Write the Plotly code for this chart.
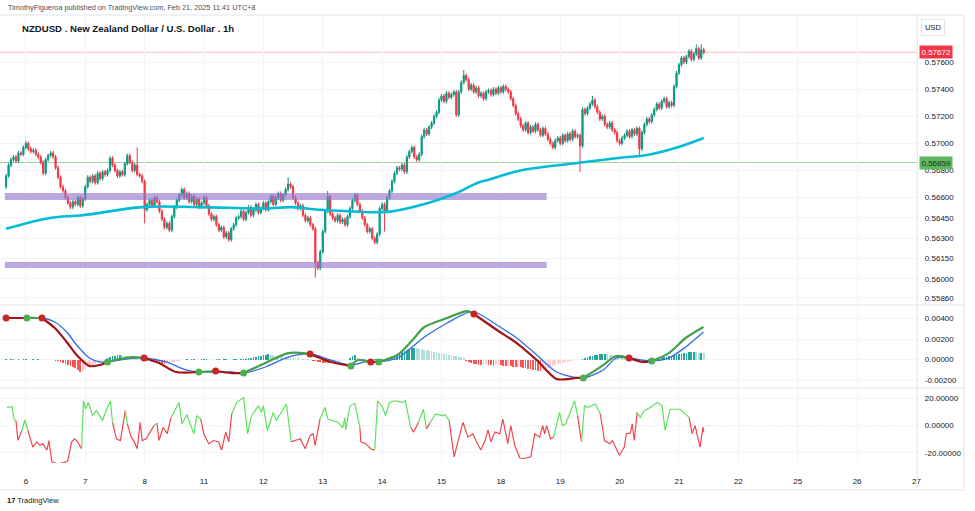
import plotly.graph_objects as go

# ---------------- data ----------------
day_labels = ['6', '7', '8', '11', '12', '13', '14', '15', '18', '19', '20', '21', '22', '25', '26', '27']
day_first_bar = 8
bars_per_day = 24

first_open_pips = 5668
close_pips = [
    5676, 5684, 5688, 5690, 5687, 5693, 5692, 5697, 5700, 5696, 5694,
    5695, 5692, 5690, 5686, 5678, 5688, 5691, 5693, 5690,
    5682, 5675, 5668, 5665, 5660, 5656,
    5653, 5657, 5655, 5660, 5654, 5659,
    5668, 5675,
    5672, 5676, 5671, 5678, 5674, 5679, 5677, 5680,
    5689, 5684, 5680, 5676, 5679, 5677,
    5685, 5691,
    5686, 5680, 5684,
    5677,
    5676, 5672,
    5651,
    5655, 5658, 5654, 5660, 5657,
    5650, 5644, 5638, 5641, 5636, 5646,
    5653, 5658, 5662, 5666, 5660, 5663,
    5657, 5661, 5655, 5659, 5653, 5656, 5660, 5654,
    5648, 5644, 5646, 5640, 5636, 5638, 5631, 5634, 5629, 5637,
    5640, 5645, 5646,
    5650, 5644, 5649, 5653, 5647, 5651, 5655, 5649, 5652, 5656, 5651,
    5657, 5661, 5655, 5660, 5663, 5658, 5662, 5666,
    5670, 5668,
    5660, 5656, 5652, 5654, 5647, 5643, 5645,
    5640, 5637,
    5612, 5608,
    5620, 5635, 5650,
    5661,
    5648, 5645, 5643, 5647, 5642, 5644, 5640, 5646,
    5652, 5658, 5662,
    5655, 5650, 5645, 5640, 5635, 5637, 5630, 5627, 5633,
    5652, 5655, 5650,
    5660, 5665,
    5672, 5678, 5682,
    5681, 5684, 5679,
    5690, 5694, 5697,
    5690, 5688, 5692,
    5705, 5710, 5707, 5712, 5715,
    5720, 5723,
    5732, 5735, 5731, 5737, 5734, 5736, 5738,
    5721,
    5738, 5745, 5750, 5747,
    5740, 5743, 5738, 5741,
    5735, 5737, 5733, 5738,
    5739, 5736, 5740, 5737, 5741, 5738, 5742, 5740, 5738,
    5733, 5728, 5722, 5718,
    5713, 5710, 5715, 5708,
    5712, 5709, 5714, 5710, 5706, 5711, 5707, 5703,
    5700, 5697, 5702,
    5704, 5700, 5706, 5702, 5707, 5703, 5709, 5705,
    5706, 5698,
    5725,
    5722, 5726, 5729, 5732,
    5727, 5723, 5718, 5720, 5714,
    5712, 5715, 5710, 5708,
    5702, 5700, 5704,
    5706, 5709, 5705, 5710, 5707, 5711,
    5696,
    5708, 5714, 5718, 5716, 5721,
    5725, 5729, 5726, 5731, 5733,
    5727, 5730, 5728,
    5742, 5752,
    5758, 5763,
    5760, 5764, 5768, 5762, 5766, 5770, 5763, 5769, 5767.2,
]
wick_pips = 1.5
high_pips_override = {8: 5702, 53: 5697, 114: 5675, 130: 5665, 185: 5754, 237: 5735, 279: 5773, 281: 5773}
low_pips_override = {56: 5641, 125: 5601, 153: 5635, 232: 5679, 256: 5690}

ma_bar = [0, 17.7, 31.0, 55.1, 78.0, 105.0, 115.5, 126.3, 138.4, 154.5, 170.6, 181.5, 190.7, 194.7, 208.0, 230.9, 251.1, 257.9, 271.2, 282]
ma_pips = [5637, 5645, 5647, 5653, 5653, 5652, 5653, 5651, 5650, 5649.5, 5656, 5663, 5671, 5673, 5680, 5685.5, 5690, 5691, 5697, 5704]

zone_low_pips = [5658.3, 5608.1]
zone_high_pips = [5663.4, 5612.5]
zone_start_bar = -0.5
zone_end_bar = 218.5
last_price = 0.57672
level_price = 0.56859

price_ticks = [0.5586, 0.5600, 0.5615, 0.5630, 0.5645, 0.5660, 0.5680, 0.5700, 0.5720, 0.5740, 0.5760]
macd_ticks = [-0.002, 0.0, 0.002, 0.004]
osc_ticks = [-20, 0, 20]

macd_bar = [0.0, 8.4, 14.5, 19.7, 24.5, 28.9, 33.7, 37.8, 41.0, 45.8,
            51.0, 55.8, 61.8, 68.7, 77.9, 84.7, 91.2, 96.0, 104.8, 114.1,
            122.9, 131.3, 139.4, 142.2, 147.4, 150.6, 158.2, 164.3, 169.1, 178.3,
            186.3, 189.1, 198.4, 206.4, 214.5, 222.5, 230.5, 233.3, 241.4, 246.6,
            251.8, 257.4, 261.0, 267.9, 274.7, 281.9]
macd_val = [0.00405, 0.00405, 0.00405, 0.00307, 0.00171, 0.00034, -0.00063, -0.00054, -0.00024, 0.00005,
            0.00024, 0.00015, -0.00034, -0.00122, -0.00122, -0.00112, -0.00132, -0.00132, -0.00034, 0.00063,
            0.00054, -0.00024, -0.00063, -0.00005, -0.00024, -0.00024, 0.00044, 0.0019, 0.00317, 0.00405,
            0.00473, 0.00444, 0.00288, 0.00161, -0.00005, -0.0019, -0.0018, -0.0018, -0.00054, 0.00034,
            0.00015, -0.00024, -0.00015, 0.00063, 0.0021, 0.00317]
macd_dot = ['r', 'g', 'r', '', '', '', '', '', 'g', '',
            '', 'r', '', '', 'g', 'r', '', 'g', '', '',
            'r', '', 'g', '', 'r', 'g', '', '', '', '',
            '', 'r', '', '', '', '', '', 'g', '', '',
            'r', '', 'g', '', '', '']

sig_bar = [0.0, 14.5, 19.7, 24.5, 28.5, 33.7, 37.8, 41.0, 51.0, 55.8,
           64.7, 72.7, 77.9, 91.2, 96.0, 104.8, 114.1, 122.9, 131.3, 139.4,
           145.0, 150.6, 158.2, 169.1, 178.3, 187.5, 190.4, 198.4, 206.4, 214.5,
           222.5, 229.3, 233.3, 241.4, 246.6, 251.8, 257.4, 261.0, 267.9, 274.7,
           281.9]
sig_val = [0.00405, 0.00405, 0.00366, 0.00268, 0.00142, 0.00015, -0.00024, -0.00024, 0.00015, 0.00015,
           -0.00024, -0.00102, -0.00122, -0.00122, -0.00132, -0.00073, 0.00024, 0.00054, -0.00005, -0.00054,
           -0.00024, -0.00024, 0.00015, 0.0022, 0.00356, 0.00464, 0.00454, 0.00337, 0.0021, 0.00044,
           -0.00122, -0.00171, -0.0018, -0.00102, 0.00015, 0.00015, -0.00005, -0.00015, 0.00015, 0.00122,
           0.00268]

# histogram, units of 0.0001, one per bar
hist_val = [
    0.2, -0.2, 0.2, 0.3, -0.2, 0.2, -0.3, 0.2, 0.3, -0.2, -0.3, 0.2, -0.2, 0.2, -0.3, -0.2, -0.3, -0.3,
    -0.3, -0.6, -1, -1.5, -2, -3, -4, -5, -6, -7, -8.5, -10, -12,
    -11, -9, -7, -6, -5, -4, -3, -2.5, -2, -1,
    1, 2, 3, 3.5, 4, 4.3,
    4, 3.5, 3, 2.5, 2, 1.5, 1, 0.6, 0.2,
    -0.5, -1, -1.5, -2, -2.5, -3, -3.5, -4, -4,
    -3.5, -3, -2.5, -2, -1.5, -1, -0.6, -0.3,
    0.3, -0.3, 0.2, 0.3, -0.2, -0.3, 0.2, 0.3, 0.3, -0.2, -0.3, -0.3, 0.2, 0.3, -0.2, 0.2, 0.3, -0.3, -0.2, 0.2, 0.3, -0.3, 0.2, 0.3,
    0.5, 1, 1.5, 2, 2.5, 3, 3.5, 4, 4.5, 5,
    4.5, 4, 3.5, 3, 2.8, 2.5, 2.2, 2, 1.8, 1.5, 1.2, 1, 0.8, 0.5, 0.3, 0.1,
    -0.5, -1, -1.5, -2, -2.5, -3, -3.5, -3.5, -3,
    -2.5, -2, -1.5, -1, -0.7, -0.4, -0.2,
    1.5, 3, 4, 2,
    -0.3, -0.5, -0.5, -0.3, -0.2, -0.1, 0.1, 0.2, 0.3, 0.4, 0.5,
    1, 2, 3, 4, 5, 6, 7, 8, 9, 10, 11, 11.5,
    11, 10.5, 10, 9.5, 9, 8.5, 8, 7.5, 7, 6.5, 6, 5.5, 5, 4.5, 4, 3.5, 3, 2.5, 2, 1.5,
    -1, -2, -3, -4, -4.5, -5, -5.5, -5, -4.5, -5, -5.5, -6, -5.5, -5,
    -5.5, -6, -6.5, -6, -6.5, -7, -7.5, -7, -7.5, -8, -8.5, -9, -9.5, -10, -10.5, -11, -11.5,
    -10.5, -9.5, -8.5, -7.5, -6.5, -5.5, -4.5, -3.5, -3, -2.5, -2, -1.5, -1, -0.7, -0.4, -0.2,
    0.5, 1, 2, 3, 3.5, 4, 4.5, 5, 5.5, 5.5,
    5, 4.5, 4, 3.5, 3, 2.5, 2, 1.5, 1, 0.5,
    -0.3, -0.5, -0.6, -0.5, -0.4, -0.3, -0.2, 0.1, 0.2, 0.3,
    0.5, 1, 1.5, 2, 2.5, 3, 3.5, 4, 4.5, 5, 5.5, 6, 6.5, 7, 7.5, 7.5, 7, 6.5, 6.5, 6,
]

osc_bar = [
    0.4, 2.4, 3.2, 4.0, 4.8, 6.4, 7.6, 8.8, 10.8, 12.4,
    13.7, 14.9, 16.5, 17.3, 18.5, 20.5, 22.9, 24.9, 26.5, 27.7,
    28.9, 30.5, 31.3, 32.1, 33.3, 34.9, 36.5, 39.0, 40.6, 42.2,
    43.0, 44.6, 46.2, 48.2, 49.0, 50.6, 51.8, 53.0, 54.2, 55.0,
    56.6, 58.6, 59.8, 61.0, 61.8, 63.5, 65.1, 66.7, 68.7, 69.9,
    71.1, 73.1, 75.9, 77.1, 78.7, 79.9, 81.9, 83.9, 85.9, 87.1,
    88.8, 90.0, 91.2, 93.2, 96.0, 97.6, 99.2, 100.8, 102.0, 103.2,
    104.0, 105.6, 108.0, 109.2, 111.2, 113.3, 115.3, 116.9, 118.9, 120.9,
    122.9, 124.1, 124.9, 126.9, 128.9, 130.1, 132.1, 134.1, 136.1, 136.9,
    137.3, 139.0, 141.0, 143.0, 143.4, 145.4, 147.4, 149.0, 150.2, 152.2,
    153.4, 155.0, 157.0, 160.2, 161.4, 163.5, 164.7, 166.7, 168.7, 169.9,
    171.5, 173.5, 176.3, 177.5, 179.1, 181.1, 183.1, 184.7, 186.7, 188.7,
    189.9, 191.9, 193.6, 194.8, 196.0, 197.6, 199.6, 200.8, 202.8, 204.0,
    205.6, 207.7, 209.7, 212.1, 213.7, 215.7, 216.9, 217.7, 218.5, 220.1,
    221.3, 223.7, 224.9, 226.2, 229.8, 231.0, 232.6, 233.8, 235.0, 238.2,
    240.2, 241.9, 243.9, 245.1, 247.9, 249.9, 250.7, 252.3, 253.1, 253.9,
    255.1, 256.3, 257.9, 260.4, 263.2, 265.2, 266.4, 268.4, 272.5, 276.1,
    277.3, 278.5, 280.5, 281.7, 282.0,
]
osc_val = [
    13.3, 13.8, 4.8, 3.6, -10.9, -3.6, 4.1, -3.6, -15.8, -12,
    -14.5, -13.3, -18, -11, -26.7, -28, -27.4, -26, -12, -9.7,
    -12, -17, 18.2, 12, 17, 7.3, 11, 3.6, 12, 18,
    2.4, -9.7, -11, 11, 1.2, -8.5, -12, -17, 2.4, -11,
    -9.7, -3.6, 0, 1.7, -11, -1.2, -6, 6, 13.3, 17,
    1.2, 8, -6, 7.3, 4.8, -6, -13.3, -11, -12, -18,
    -4.8, -12, 8.5, 17, 20.6, -6, 7.3, 11, 14.5, 9.7,
    14.5, -3.6, 9.7, 3.6, 9.7, 15.8, -12, -11, -9.7, -17,
    -7.3, -6, -14.5, 4.8, 13.3, 4.8, 3.6, 2.4, -1.7, 5.6,
    -3.2, 14.5, 16.2, -1.2, -12, -13.3, -17, -18, 18.2, 13.3,
    7.3, 17, 18.2, 17, 18.2, -1.2, -4.8, 2.4, 12, -2.4,
    2.4, 8.5, 7.3, 8, 3.6, -23, -8.5, 2.4, -8.5, -6,
    -11, -18, -11, -3.2, -12, -4.8, -6, 4.8, -13.3, 0,
    -14.5, -24, -24, -23, -6, -8.5, 0, -6, 0, -9.7,
    -8.5, 9.7, 0, 1.2, 18.2, 7.3, -12, 14.5, 13.3, 15.8,
    8.5, -11, -13.3, -11, -21.8, -15.8, -6, -5.6, 1.2, -11,
    9.7, 6, 11, 13.3, 17, 14.5, -3.6, 12, 12, 6,
    -6, 0, -15.8, -1.2, -4.8,
]

# ---------------- derived OHLC ----------------
n = len(close_pips)
bars = list(range(n))
close = [c / 1e4 for c in close_pips]
open_ = [first_open_pips / 1e4] + close[:-1]
high, low = [], []
for i in range(n):
    hi = high_pips_override.get(i, max(open_[i], close[i]) * 1e4 + wick_pips)
    lo = low_pips_override.get(i, min(open_[i], close[i]) * 1e4 - wick_pips)
    high.append(hi / 1e4)
    low.append(lo / 1e4)

# ---------------- layout helpers ----------------
W, H = 975, 511
PLOT_R = 921
AXIS_R = 968
def px(x):
    return x / W
def py(y):
    return 1 - y / H

dom_x = [0, px(PLOT_R)]
dom_main = [py(305), py(15)]
dom_macd = [py(388), py(305)]
dom_osc = [py(463), py(388)]
x_range = [-2.46, 368.3]
day_ticks = [day_first_bar + bars_per_day * k for k in range(len(day_labels))]

UP = '#089981'
DN = '#F23645'
GRID = '#F2F4F9'
TXT = '#131722'
FONT = 'Liberation Sans, Arial, sans-serif'

fig = go.Figure()

# support / resistance zones (drawn as filled traces, above grid, below candles)
for lo_, hi_ in zip(zone_low_pips, zone_high_pips):
    fig.add_trace(go.Scatter(
        x=[zone_start_bar, zone_end_bar, zone_end_bar, zone_start_bar, zone_start_bar],
        y=[lo_ / 1e4, lo_ / 1e4, hi_ / 1e4, hi_ / 1e4, lo_ / 1e4],
        mode='lines', fill='toself', fillcolor='rgba(149,117,205,0.62)', line=dict(width=0),
        showlegend=False, hoverinfo='skip', xaxis='x', yaxis='y'))

fig.add_trace(go.Candlestick(
    x=bars, open=open_, high=high, low=low, close=close,
    increasing=dict(line=dict(color=UP, width=1), fillcolor=UP),
    decreasing=dict(line=dict(color=DN, width=1), fillcolor=DN),
    whiskerwidth=0, showlegend=False, hoverinfo='skip', xaxis='x', yaxis='y'))

fig.add_trace(go.Scatter(
    x=ma_bar, y=[p / 1e4 for p in ma_pips], mode='lines',
    line=dict(color='#00BCD4', width=2.6, shape='spline', smoothing=1.0),
    showlegend=False, hoverinfo='skip', xaxis='x', yaxis='y'))

# MACD histogram
hcolors = []
for i, v in enumerate(hist_val):
    prev = hist_val[i - 1] if i > 0 else 0
    if v >= 0:
        hcolors.append('#26A69A' if v >= prev else '#B2DFDB')
    else:
        hcolors.append('#FF5252' if v <= prev else '#FFCDD2')
fig.add_trace(go.Bar(
    x=bars[:len(hist_val)], y=[v / 1e4 for v in hist_val], marker=dict(color=hcolors, line=dict(width=0)),
    width=0.7, showlegend=False, hoverinfo='skip', xaxis='x2', yaxis='y2'))

# signal line
fig.add_trace(go.Scatter(
    x=sig_bar, y=sig_val, mode='lines',
    line=dict(color='#2F6BE8', width=1.3, shape='spline', smoothing=0.8),
    showlegend=False, hoverinfo='skip', xaxis='x2', yaxis='y2'))

# MACD line segments coloured by last cross
dot_idx = [i for i, d in enumerate(macd_dot) if d]
seg_bounds = dot_idx + [len(macd_bar) - 1]
for k in range(len(dot_idx)):
    a, b = seg_bounds[k], seg_bounds[k + 1]
    if b <= a:
        continue
    col = '#43A047' if macd_dot[a] == 'g' else '#A31515'
    fig.add_trace(go.Scatter(
        x=macd_bar[a:b + 1], y=macd_val[a:b + 1], mode='lines',
        line=dict(color=col, width=2.2, shape='spline', smoothing=0.8),
        showlegend=False, hoverinfo='skip', xaxis='x2', yaxis='y2'))

fig.add_trace(go.Scatter(
    x=[macd_bar[i] for i in dot_idx], y=[macd_val[i] for i in dot_idx], mode='markers',
    marker=dict(size=7, color=['#4CAF50' if macd_dot[i] == 'g' else '#C62828' for i in dot_idx]),
    showlegend=False, hoverinfo='skip', xaxis='x2', yaxis='y2'))

# oscillator coloured runs
runs = []
for i in range(len(osc_bar) - 1):
    col = '#5BE35B' if (osc_val[i] + osc_val[i + 1]) / 2 > 0 else '#F0474F'
    if runs and runs[-1][0] == col:
        runs[-1][1].append(i + 1)
    else:
        runs.append([col, [i, i + 1]])
for col, idx in runs:
    fig.add_trace(go.Scatter(
        x=[osc_bar[i] for i in idx], y=[osc_val[i] for i in idx], mode='lines',
        line=dict(color=col, width=1.2), showlegend=False, hoverinfo='skip',
        xaxis='x3', yaxis='y3'))

# ---------------- shapes ----------------
shapes = []
shapes.append(dict(type='line', xref='paper', yref='y', x0=0, x1=px(PLOT_R), y0=last_price, y1=last_price,
                   line=dict(color='rgba(242,54,69,0.35)', width=1), layer='below'))
shapes.append(dict(type='line', xref='paper', yref='y', x0=0, x1=px(PLOT_R), y0=level_price, y1=level_price,
                   line=dict(color='rgba(76,175,80,0.55)', width=1.2), layer='below'))
shapes.append(dict(type='line', xref='paper', yref='y2', x0=0, x1=px(PLOT_R), y0=0, y1=0,
                   line=dict(color='#9598A1', width=1, dash='dash'), layer='below'))
shapes.append(dict(type='line', xref='paper', yref='y3', x0=0, x1=px(PLOT_R), y0=0, y1=0,
                   line=dict(color='#9598A1', width=1, dash='dash'), layer='below'))
border = '#E0E3EB'
for yy in (305, 388, 15, 490):
    shapes.append(dict(type='line', xref='paper', yref='paper', x0=0, x1=px(AXIS_R), y0=py(yy), y1=py(yy),
                       line=dict(color=border, width=1)))
for xx in (PLOT_R, AXIS_R):
    shapes.append(dict(type='line', xref='paper', yref='paper', x0=px(xx), x1=px(xx), y0=py(15), y1=py(490),
                       line=dict(color=border, width=1)))

# ---------------- annotations ----------------
ann = [
    dict(x=px(6), y=py(7), xref='paper', yref='paper', xanchor='left', yanchor='middle', showarrow=False,
         text='TimothyFigueroa published on TradingView.com, Feb 21, 2025 11:41 UTC+8',
         font=dict(size=7.3, color='#4A4E59')),
    dict(x=px(20), y=py(28), xref='paper', yref='paper', xanchor='left', yanchor='middle', showarrow=False,
         text='<b>NZDUSD . New Zealand Dollar / U.S. Dollar . 1h</b>', font=dict(size=9.6, color=TXT)),
    dict(x=px(937), y=py(27), xref='paper', yref='paper', xanchor='center', yanchor='middle', showarrow=False,
         text='USD', font=dict(size=7.5, color=TXT), bgcolor='white', bordercolor=border, borderwidth=1, borderpad=3),
    dict(x=px(PLOT_R + 2), y=last_price, xref='paper', yref='y', xanchor='left', yanchor='middle', showarrow=False,
         text='%.5f' % last_price, font=dict(size=8, color='white'), bgcolor=DN, borderpad=1.5),
    dict(x=px(PLOT_R + 2), y=level_price, xref='paper', yref='y', xanchor='left', yanchor='middle', showarrow=False,
         text='%.5f' % level_price, font=dict(size=8, color='#17301A'), bgcolor='#5CB860', borderpad=1.5),
    dict(x=px(5), y=py(500), xref='paper', yref='paper', xanchor='left', yanchor='middle', showarrow=False,
         text='<b>17</b> TradingView', font=dict(size=7.5, color=TXT)),
]

def xax(show_labels):
    return dict(domain=dom_x, range=x_range, tickvals=day_ticks, ticktext=day_labels,
                showticklabels=show_labels, showgrid=True, gridcolor=GRID, gridwidth=1,
                zeroline=False, ticks='', showline=False, fixedrange=True,
                tickfont=dict(size=8, color=TXT))

def yax(dom, rng, vals, texts, anchor):
    return dict(domain=dom, range=rng, side='right', anchor=anchor, tickvals=vals, ticktext=texts,
                showgrid=True, gridcolor=GRID, gridwidth=1, zeroline=False, ticks='outside',
                ticklen=5, tickcolor='rgba(0,0,0,0)', showline=False, fixedrange=True,
                tickfont=dict(size=8, color=TXT))

fig.update_layout(
    width=W, height=H, margin=dict(l=0, r=0, t=0, b=0),
    paper_bgcolor='white', plot_bgcolor='white',
    font=dict(family=FONT, color=TXT),
    showlegend=False, bargap=0, hovermode=False,
    xaxis=dict(xax(False), anchor='y', rangeslider=dict(visible=False)),
    xaxis2=dict(xax(False), anchor='y2', matches='x'),
    xaxis3=dict(xax(True), anchor='y3', matches='x', ticks='outside', ticklen=10,
                tickcolor='rgba(0,0,0,0)'),
    yaxis=yax(dom_main, [0.55808, 0.57947], price_ticks, ['%.5f' % v for v in price_ticks], 'x'),
    yaxis2=yax(dom_macd, [-0.00278, 0.00532], macd_ticks, ['%.5f' % v for v in macd_ticks], 'x2'),
    yaxis3=yax(dom_osc, [-27.5, 27.6], osc_ticks, ['%.5f' % v for v in osc_ticks], 'x3'),
    shapes=shapes, annotations=ann,
)

fig.write_html('out.html', config={'displayModeBar': False, 'staticPlot': True},
               post_script="document.body.style.margin='0';document.body.style.padding='0';")
